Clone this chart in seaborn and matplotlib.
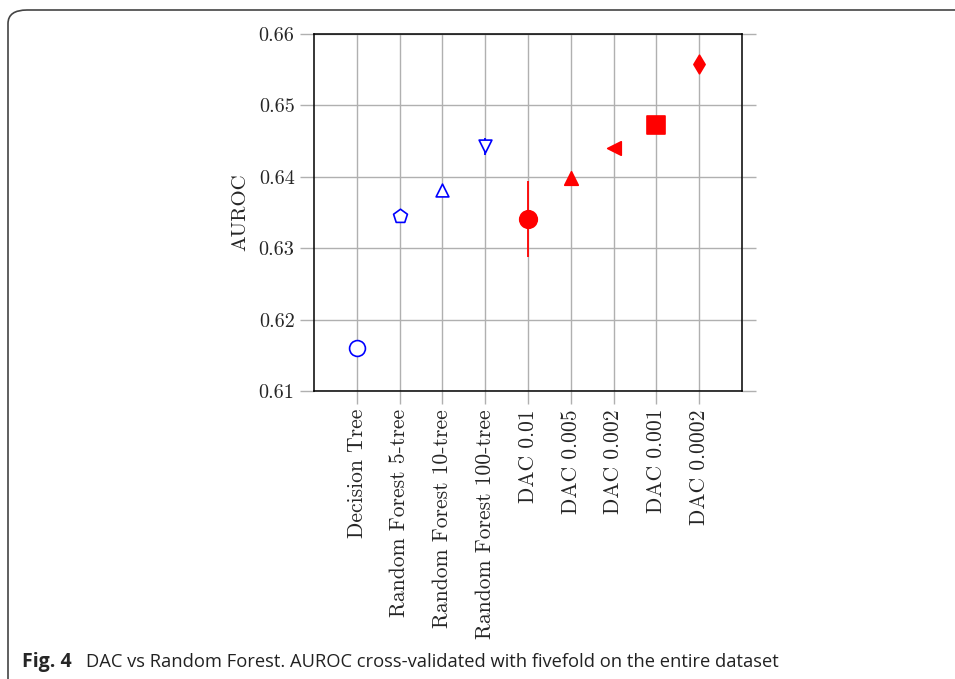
import matplotlib
matplotlib.use("Agg")
import matplotlib.pyplot as plt
import seaborn as sns
import pandas as pd
from matplotlib.patches import FancyBboxPatch

categories = ["Decision Tree", "Random Forest 5-tree", "Random Forest 10-tree",
              "Random Forest 100-tree", "DAC 0.01", "DAC 0.005", "DAC 0.002",
              "DAC 0.001", "DAC 0.0002"]
auroc = [0.6160, 0.6345, 0.6381, 0.6443, 0.6341, 0.6398, 0.6440, 0.6472, 0.6558]
errors = [0.0, 0.0, 0.0, 0.0012, 0.0053, 0.0, 0.0, 0.0, 0.0]
groups = ["RF", "RF", "RF", "RF", "DAC", "DAC", "DAC", "DAC", "DAC"]
y_ticks = [0.61, 0.62, 0.63, 0.64, 0.65, 0.66]

markers = ["o", "p", "^", "v", "o", "^", "<", "s", "d"]
sizes = [130, 110, 85, 85, 160, 95, 95, 150, 90]
filled = [False, False, False, False, True, True, True, True, True]
colors = {"RF": "#0000ff", "DAC": "#ff0000"}

df = pd.DataFrame({"cat": categories, "auroc": auroc, "err": errors, "group": groups})
df["pos"] = range(len(df))

sns.set_style("white")
plt.rcParams["font.family"] = ["cmr10", "DejaVu Serif"]
plt.rcParams["axes.formatter.use_mathtext"] = True

fig = plt.figure(figsize=(9.55, 6.79), dpi=100)
ax = fig.add_axes([314/955, 1-391/679, 428/955, 357/679])

# frame around the figure
frame = FancyBboxPatch((8/955, -20/679), 1.2, (669+20)/679,
                       boxstyle="round,pad=0,rounding_size=0.02",
                       transform=fig.transFigure, fill=False,
                       edgecolor="#444444", linewidth=1.2, clip_on=False)
fig.patches.append(frame)

for i, row in df.iterrows():
    c = colors[row["group"]]
    if row["err"] > 0:
        ax.errorbar(row["pos"], row["auroc"], yerr=row["err"], fmt="none",
                    ecolor=c, elinewidth=1.3, capsize=0, zorder=3)
    sub = df.iloc[[i]]
    sns.scatterplot(data=sub, x="pos", y="auroc", ax=ax, marker=markers[i],
                    s=sizes[i],
                    facecolor=c if filled[i] else "white",
                    edgecolor=c, linewidth=1.2, zorder=4, legend=False)

ax.set_xlim(-1, 9)
ax.set_ylim(0.61, 0.66)
ax.set_xticks(df["pos"])
ax.set_xticklabels(categories, rotation=90, fontsize=15.5)
ax.set_yticks(y_ticks)
ax.set_yticklabels([f"{v:.2f}" for v in y_ticks], fontsize=14.5)
ax.set_xlabel("")
ax.set_ylabel("AUROC", fontsize=15, labelpad=7)

ax.grid(True, color="#b0b0b0", linewidth=1.0)
ax.set_axisbelow(True)
ax.tick_params(axis="y", which="major", direction="out", length=10,
               width=1.0, color="#b0b0b0", left=True, right=True, pad=4)
ax.tick_params(axis="x", which="major", direction="out", length=9,
               width=1.0, color="#b0b0b0", bottom=True, top=False, pad=4)
for s in ax.spines.values():
    s.set_color("black")
    s.set_linewidth(1.1)
    s.set_zorder(5)

fig.text(22/955, 1-662/679, "Fig. 4", fontsize=14, fontweight="bold",
         family=["Open Sans", "DejaVu Sans"], va="center", ha="left")
fig.text(86/955, 1-662/679,
         "DAC vs Random Forest. AUROC cross-validated with fivefold on the entire dataset",
         fontsize=13.2, family=["Open Sans", "DejaVu Sans"], va="center", ha="left",
         color="#222222")

fig.savefig("out.png", dpi=100)
